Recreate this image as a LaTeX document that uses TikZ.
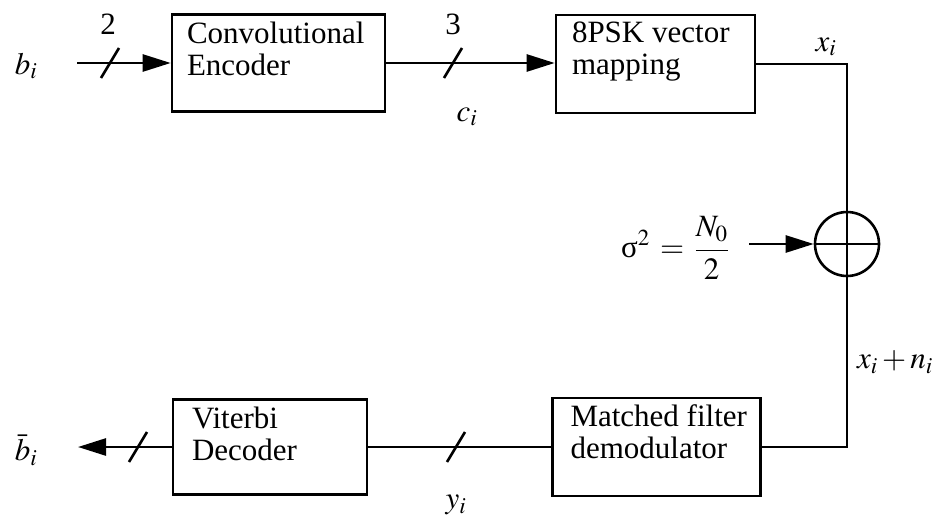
\documentclass[tikz,border=0pt]{standalone}
\usepackage{mathptmx}
\usepackage{fontspec}
\setmainfont{Liberation Serif}
\usetikzlibrary{arrows.meta}
\begin{document}
\begin{tikzpicture}[x=1pt,y=-1pt,line width=2.6pt,
  blk/.style={draw,rectangle,inner sep=0pt,minimum width=#1},
  blktext/.style={anchor=base west,align=left,inner sep=0pt,font=\fontsize{31}{32}\selectfont},
  lbl/.style={inner sep=0pt,font=\fontsize{31}{32}\selectfont},
  arr/.style={-{Triangle[length=28pt,width=17pt]}},
  buswidth/.pic={\draw[line width=2.6pt] (-9,15) -- (9,-15);}]
\useasboundingbox (0,0) rectangle (941,522);

% processing blocks
\node[blk=213pt,minimum height=97pt] (enc) at (278.5,63) {};
\node[blk=199pt,minimum height=98pt] (psk) at (655.5,64) {};
\node[blk=208pt,minimum height=98pt] (mf)  at (656.5,447) {};
\node[blk=194pt,minimum height=95pt] (vit) at (270,447) {};
\node[draw,circle,inner sep=0pt,minimum size=64pt] (sum) at (847,244) {};

% block captions (the shift gives the baseline of the second line)
\node[blktext] (enct) at ([xshift=15pt,yshift=-62pt]enc.north west) {Convolutional\\Encoder};
\node[blktext] (pskt) at ([xshift=16pt,yshift=-61pt]psk.north west) {8PSK vector\\mapping};
\node[blktext] (mft)  at ([xshift=18pt,yshift=-62pt]mf.north west) {Matched filter\\demodulator};
\node[blktext] (vitt) at ([xshift=19pt,yshift=-62pt]vit.north west) {Viterbi\\Decoder};

% free ends and corners of the signal path
\coordinate (bin)  at (77,63);
\coordinate (bout) at (78,447);
\coordinate (c1)   at (847,64);
\coordinate (c2)   at (847,447);
\coordinate (nz)   at (749,244);

% connectors
\draw[arr] (bin) -- (enc.west);
\draw[arr] (enc.east) -- (enc.east -| psk.west);
\draw (psk.east) -- (c1) -- (sum.north);
\draw (sum.north) -- (sum.south);
\draw (sum.west) -- (sum.east);
\draw (sum.south) -- (c2) -- (mf.east);
\draw (mf.west) -- (vit.east);
\draw[arr] (vit.west) -- (bout);
\draw[arr] (nz) -- (sum.west);

% bus width marks
\path (110,63) pic {buswidth};
\path (453,63) pic {buswidth};
\path (456,447) pic {buswidth};
\path (138,447) pic {buswidth};

% signal labels
\node[lbl] (lb)   at (26,66)   {$b_i$};
\node[lbl] (l2)   at (108,24)  {2};
\node[lbl] (l3)   at (453,24)  {3};
\node[lbl] (lc)   at (467,117) {$c_i$};
\node[lbl] (lx)   at (826,47)  {$x_i$};
\node[lbl] (lnz)  at (675,248) {$\displaystyle\mbox{σ}^2\,=\,\frac{N_0}{2}$};
\node[lbl] (lxn)  at (895,362) {$x_i+n_i$};
\node[lbl] (ly)   at (456,505) {$y_i$};
\node[lbl] (lbo)  at (26,450)  {$\bar{b}_i$};
\end{tikzpicture}
\end{document}
